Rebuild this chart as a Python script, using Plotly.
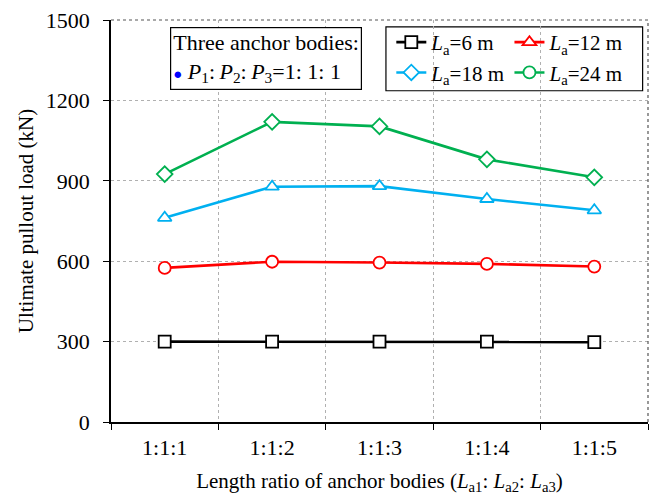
import plotly.graph_objects as go

# Length ratio categories of the three anchor bodies
ratios = ["1:1:1", "1:1:2", "1:1:3", "1:1:4", "1:1:5"]

# Ultimate pullout load (kN) for each total anchor length
load_6m = [300, 300, 300, 300, 298]
load_12m = [575, 598, 595, 590, 580]
load_18m = [762, 878, 880, 832, 790]
load_24m = [925, 1120, 1103, 980, 913]

series_names = ["<i>L</i><sub>a</sub>=6 m", "<i>L</i><sub>a</sub>=12 m",
                "<i>L</i><sub>a</sub>=18 m", "<i>L</i><sub>a</sub>=24 m"]
series_values = [load_6m, load_12m, load_18m, load_24m]
colors = ["#000000", "#ff0000", "#00b0f0", "#00b050"]
line_symbols = ["square", "circle", "triangle-up", "diamond"]
legend_symbols = ["square", "triangle-up", "diamond", "circle"]
legend_ids = ["legend", "legend2", "legend", "legend2"]

FONT = "Liberation Serif, Times New Roman, serif"

fig = go.Figure()

for vals, col, sym in zip(series_values, colors, line_symbols):
    fig.add_trace(go.Scatter(
        x=ratios, y=vals, mode="lines+markers", showlegend=False,
        line=dict(color=col, width=2.6),
        marker=dict(symbol=sym, size=12, color="white",
                    line=dict(color=col, width=1.8)),
    ))

# Legend entries
for name, col, sym, lg in zip(series_names, colors, legend_symbols, legend_ids):
    fig.add_trace(go.Scatter(
        x=[None], y=[None], mode="lines+markers", name=name, legend=lg,
        legendgroup=name,
        line=dict(color=col, width=2.6),
        marker=dict(symbol=sym, size=12, color="white",
                    line=dict(color=col, width=1.8)),
    ))

legend_style = dict(
    font=dict(family=FONT, size=21, color="black"),
    bgcolor="rgba(0,0,0,0)", borderwidth=0,
    yanchor="top", xanchor="left", y=0.995,
    tracegroupgap=0, itemwidth=30,
)

P_RATIO = ("<i>P</i><sub>1</sub>:&#8201;<i>P</i><sub>2</sub>:&#8201;"
           "<i>P</i><sub>3</sub>=1: 1: 1")

fig.update_layout(
    width=654, height=497,
    margin=dict(l=111, r=6, t=20, b=75),
    paper_bgcolor="white", plot_bgcolor="white",
    font=dict(family=FONT, size=21, color="black"),
    legend=dict(x=0.522, **legend_style),
    legend2=dict(x=0.742, **legend_style),
    xaxis=dict(
        type="category", range=[-0.5, 4.5],
        tickson="boundaries", ticks="outside", ticklen=6, tickcolor="black",
        showline=True, linecolor="black", linewidth=1.5,
        showgrid=True, gridcolor="#b0b0b0", griddash="dot", gridwidth=1,
        ticklabelstandoff=5,
        tickfont=dict(family=FONT, size=22),
        title=dict(text="Length ratio of anchor bodies (<i>L</i><sub>a1</sub>: "
                        "<i>L</i><sub>a2</sub>: <i>L</i><sub>a3</sub>)",
                   font=dict(family=FONT, size=21), standoff=14),
    ),
    yaxis=dict(
        range=[0, 1500], tickvals=[0, 300, 600, 900, 1200, 1500],
        ticks="outside", ticklen=6, tickcolor="black",
        showline=True, linecolor="black", linewidth=1.5,
        showgrid=True, gridcolor="#b0b0b0", griddash="dot", gridwidth=1,
        zeroline=False, ticklabelstandoff=9,
        tickfont=dict(family=FONT, size=22),
        title=dict(text="Ultimate pullout load (kN)",
                   font=dict(family=FONT, size=21), standoff=6),
    ),
    shapes=[
        # outer frame on top and right edges
        dict(type="line", xref="paper", yref="paper", x0=0, x1=1, y0=1, y1=1,
             line=dict(color="#555555", width=1.2, dash="dot")),
        dict(type="line", xref="paper", yref="paper", x0=1, x1=1, y0=0, y1=1,
             line=dict(color="#555555", width=1.2, dash="dot")),
        # box around the two-column legend
        dict(type="rect", xref="paper", yref="paper",
             x0=0.512, x1=0.990, y0=0.824, y1=0.983,
             line=dict(color="black", width=1.2), fillcolor="white",
             layer="below"),
    ],
    annotations=[
        dict(
            xref="paper", yref="paper", x=0.110, y=0.983,
            xanchor="left", yanchor="top", align="left", showarrow=False,
            text=("Three anchor bodies:<br>"
                  "<span style='color:#0000ff;font-size:15px'>●</span> " + P_RATIO),
            font=dict(family=FONT, size=22, color="black"),
            bgcolor="white", bordercolor="black", borderwidth=1.2, borderpad=2,
        )
    ],
)

fig.write_html("out.html")
